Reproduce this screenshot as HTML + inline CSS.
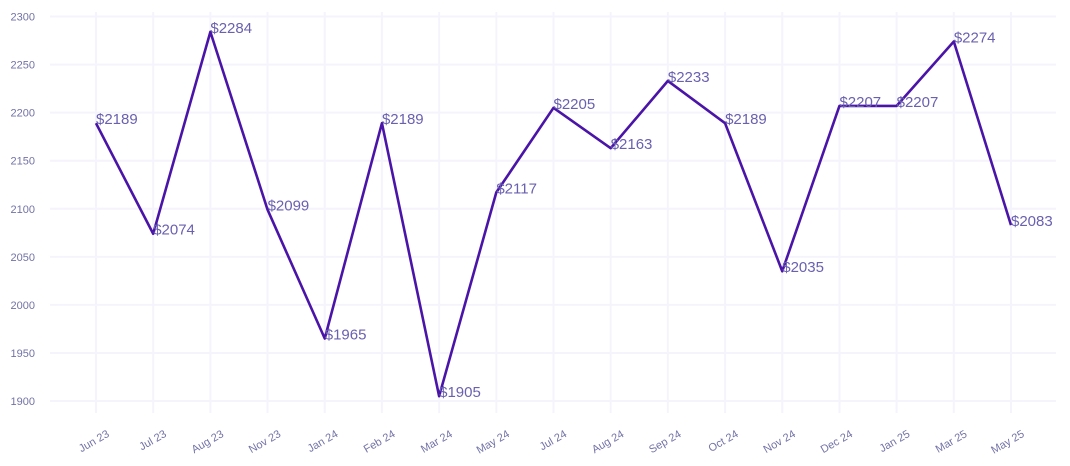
<!DOCTYPE html>
<html><head><meta charset="utf-8"><style>
body{margin:0;background:#fff;}
svg{display:block;font-family:"Liberation Sans",sans-serif;}
</style></head><body>
<svg id="chart" width="1070" height="466" xmlns="http://www.w3.org/2000/svg">
<g id="grid"></g>
<g id="yaxis"></g>
<g id="xaxis"></g>
<g id="series"></g>
</svg>
<script>
const categories=["Jun 23","Jul 23","Aug 23","Nov 23","Jan 24","Feb 24","Mar 24","May 24","Jul 24","Aug 24","Sep 24","Oct 24","Nov 24","Dec 24","Jan 25","Mar 25","May 25"];
const values=[2189,2074,2284,2099,1965,2189,1905,2117,2205,2163,2233,2189,2035,2207,2207,2274,2083];
const yTicks=[1900,1950,2000,2050,2100,2150,2200,2250,2300];
const NS="http://www.w3.org/2000/svg";
const yMin=1900,yMax=2300,yTop=16.5,yBot=401;
const x0=96,x1=1011;
const ys=v=>yBot-(v-yMin)/(yMax-yMin)*(yBot-yTop);
const xs=i=>x0+i*(x1-x0)/(categories.length-1);
function mk(tag,attrs,parent){const e=document.createElementNS(NS,tag);for(const k in attrs)e.setAttribute(k,attrs[k]);parent.appendChild(e);return e;}
const grid=document.getElementById('grid'),ya=document.getElementById('yaxis'),xa=document.getElementById('xaxis'),se=document.getElementById('series');
yTicks.forEach(t=>{
 const l=mk('line',{x1:50,x2:1056,y1:ys(t),y2:ys(t),stroke:'#f5f4fc','stroke-width':2},grid);
 
 
 const tx=mk('text',{x:35,y:ys(t)+4,'text-anchor':'end','font-size':11,fill:'#7272a8'},ya);
 tx.textContent=t;
 
 
});
categories.forEach((c,i)=>{
 const l=mk('line',{x1:xs(i),x2:xs(i),y1:12,y2:413,stroke:'#f5f4fc','stroke-width':2},grid);
 
 
 const tx=mk('text',{x:0,y:0,'text-anchor':'end','font-size':11,fill:'#7272a8',transform:`translate(${xs(i)+14},${436}) rotate(-30)`},xa);
 tx.textContent=c;
 
 
});
const p=mk('polyline',{points:values.map((v,i)=>xs(i)+','+ys(v)).join(' '),fill:'none',stroke:'#4a14a8','stroke-width':2.6,'stroke-linejoin':'round'},se);


values.forEach((v,i)=>{
 const tx=mk('text',{x:xs(i),y:ys(v)+1,'font-size':15,fill:'#6a60b0'},se);
 tx.textContent='$'+v;
 
 
});
</script>
</body></html>
